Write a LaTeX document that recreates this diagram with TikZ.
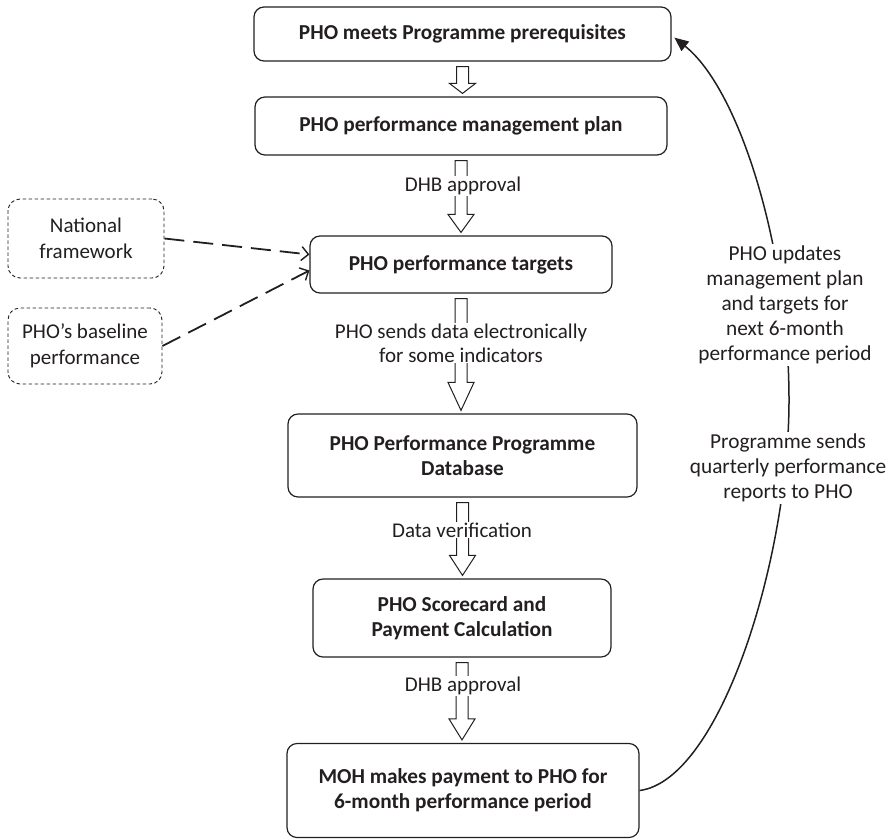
\documentclass[tikz,border=0pt]{standalone}
\usepackage{fontspec}
\setmainfont{Carlito}
\usetikzlibrary{arrows.meta,calc}
\definecolor{ink}{HTML}{231F20}

% Hollow block arrow between two stacked stages: #1 upper node, #2 lower node, #3 head length
\newcommand\blockflow[3]{%
  \draw[hollow] let \p1=($(#1.south)+(0,5)$), \p2=($(#2.north)+(0,-3)$) in
    ({\x1-6pt},\y1) -- ({\x1+6pt},\y1) -- ({\x1+6pt},{\y2+#3pt}) -- ({\x1+13pt},{\y2+#3pt})
    -- (\x1,\y2) -- ({\x1-13pt},{\y2+#3pt}) -- ({\x1-6pt},{\y2+#3pt}) -- cycle;}

\begin{document}
\begin{tikzpicture}[x=1pt,y=-1pt,
  stage/.style={draw=ink, line width=1.2pt, rounded corners=10pt, text=ink,
    font=\fontsize{21.3}{25}\selectfont\bfseries, align=center, inner sep=0pt},
  source/.style={draw=ink, line width=0.9pt, dash pattern=on 3.5pt off 2.5pt,
    rounded corners=12pt, text=ink, font=\fontsize{21}{26}\selectfont,
    align=center, inner sep=0pt},
  steplabel/.style={fill=white, text=ink, font=\fontsize{21}{24}\selectfont,
    align=center, inner sep=1pt},
  looplabel/.style={fill=white, text=ink, font=\fontsize{21.3}{25}\selectfont,
    align=center, inner sep=2pt},
  hollow/.style={draw=ink, fill=white, line width=1pt, line join=miter},
  feed/.style={draw=ink, line width=1.8pt, dash pattern=on 20pt off 9pt,
    -{Straight Barb[length=7pt,width=14pt,line width=1.4pt]}},
  cycleback/.style={draw=ink, line width=1.5pt,
    -{Triangle[length=14pt,width=12pt]}}
]
\useasboundingbox (0,0) rectangle (893,839);

% main sequence of stages
\node[stage, minimum width=417pt, minimum height=54pt] (prereq) at (462.5,34) {PHO meets Programme prerequisites};
\node[stage, minimum width=412pt, minimum height=58pt] (plan) at (461,126) {PHO performance management plan};
\node[stage, minimum width=302pt, minimum height=57pt] (targets) at (461,264.5) {PHO performance targets};
\node[stage, minimum width=349pt, minimum height=83pt] (db) at (462.5,455.5) {PHO Performance Programme\\Database};
\node[stage, minimum width=298pt, minimum height=78pt] (score) at (462,618) {PHO Scorecard and\\Payment Calculation};
\node[stage, minimum width=352pt, minimum height=94pt] (pay) at (463,790.5) {MOH makes payment to PHO for\\6-month performance period};

% inputs to the targets
\node[source, minimum width=156pt, minimum height=79pt] (natl) at (86,238.5) {National\\framework};
\node[source, minimum width=154pt, minimum height=76pt] (base) at (85,346) {PHO’s baseline\\performance};

% block arrows between stages
\blockflow{prereq}{plan}{10}
\blockflow{plan}{targets}{18}
\blockflow{targets}{db}{28}
\blockflow{db}{score}{20}
\blockflow{score}{pay}{21}

% labels on the block arrows
\node[steplabel] (l1) at (463,186) {DHB approval};
\node[steplabel] (l2) at (461,343) {PHO sends data electronically\\for some indicators};
\node[steplabel] (l3) at (462,530) {Data verification};
\node[steplabel] (l4) at (463,686) {DHB approval};

% dashed inputs
\draw[feed] (natl.east) -- ($(targets.west)+(0,-10)$);
\draw[feed] (base.east) -- ($(targets.west)+(0,6)$);

% feedback loop from payment back to prerequisites
\draw[cycleback, shorten >=1pt] (pay.east) .. controls (720,780) and (789,560) .. (789,400)
  .. controls (789,250) and (740,90) .. ($(prereq.east)+(2,3)$);
\node[looplabel] (up) at (785,305) {PHO updates\\management plan\\and targets for\\next 6-month\\performance period};
\node[looplabel] (rep) at (788,468) {Programme sends\\quarterly performance\\reports to PHO};
\end{tikzpicture}
\end{document}
